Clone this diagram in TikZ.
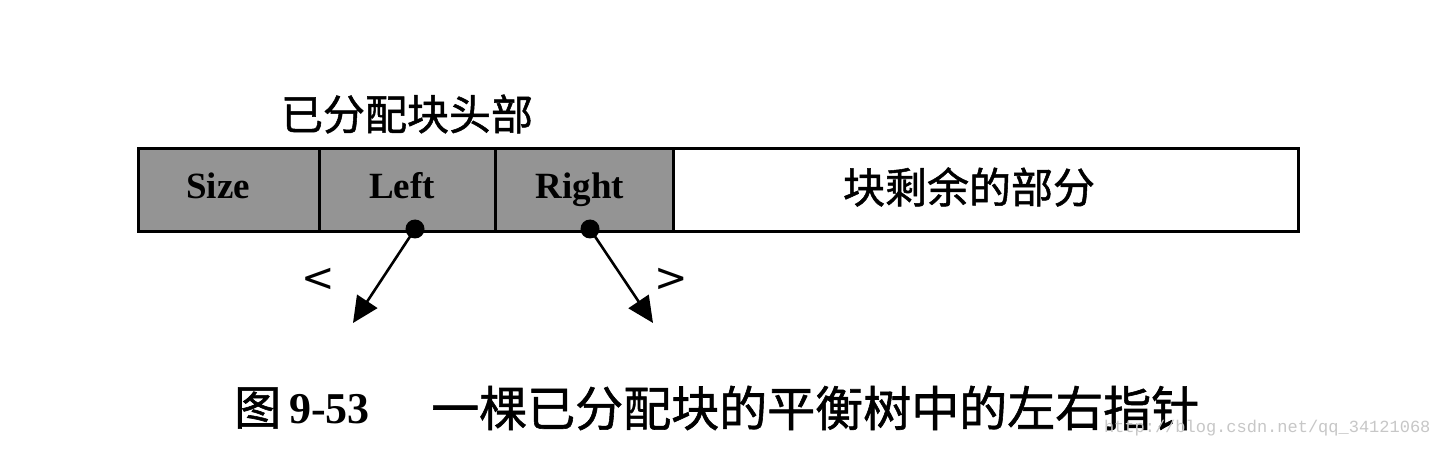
\documentclass[tikz,border=0pt]{standalone}
\usepackage{fontspec}
\setmainfont{Liberation Serif}
\newfontfamily\cjk{Noto Sans CJK SC}[AutoFakeBold=1.2]
\newfontfamily\wmfont{Liberation Mono}
\newfontfamily\symfont{DejaVu Sans}
\usetikzlibrary{arrows.meta}
\begin{document}
\begin{tikzpicture}[x=1pt,y=-1pt,
  cell/.style={draw=black,line width=2.6pt,minimum height=83pt,inner sep=0pt,anchor=north west},
  hdr/.style={cell,fill=black!42},
  lbl/.style={font=\bfseries\fontsize{37}{40}\selectfont,anchor=base},
  cjkb/.style={font=\cjk\bfseries\fontsize{42}{44}\selectfont},
  ptr/.style={line width=2.6pt,-{Triangle[length=26pt,width=24pt]}},
  pdot/.style={circle,fill=black,inner sep=0pt,minimum size=19pt}]
\useasboundingbox[fill=white] (0,0) rectangle (1443,449);
\node[hdr,minimum width=181pt] (size) at (137,147) {};
\node[hdr,minimum width=176pt] (left) at (318,147) {};
\node[hdr,minimum width=178pt] (right) at (494,147) {};
\node[cell,minimum width=625pt] (rest) at (672,147) {};
\node[lbl] (sizelbl) at (218,199) {Size};
\node[lbl] (leftlbl) at (402,199) {Left};
\node[lbl] (rightlbl) at (580,199) {Right};
\node[cjkb] (restlbl) at (969,187) {块剩余的部分};
\node[cjkb] (title) at (407,114) {已分配块头部};
\node[pdot] (dl) at (415,229) {};
\node[pdot] (dr) at (590,229) {};
\coordinate (el) at (353,323);
\coordinate (er) at (653,323);
\draw[ptr] (dl.center) -- (el);
\draw[ptr] (dr.center) -- (er);
\node[font=\symfont\fontsize{40}{40}\selectfont] (lt) at (318,280) {<};
\node[font=\symfont\fontsize{40}{40}\selectfont] (gt) at (671,280) {>};
\node[font=\cjk\bfseries\fontsize{47}{50}\selectfont,anchor=west,inner sep=0pt] (capfig) at (234,408) {图};
\node[font=\bfseries\fontsize{44}{48}\selectfont,anchor=base west,inner sep=0pt] (capnum) at (289,423) {9-53};
\node[font=\cjk\bfseries\fontsize{48}{50}\selectfont,anchor=west,inner sep=0pt] (cap) at (431,408) {一棵已分配块的平衡树中的左右指针};
\node[font=\wmfont\fontsize{17}{18}\selectfont,text=black!22,anchor=east] (wm) at (1434,428) {http://blog.csdn.net/qq\_34121068};
\end{tikzpicture}
\end{document}
